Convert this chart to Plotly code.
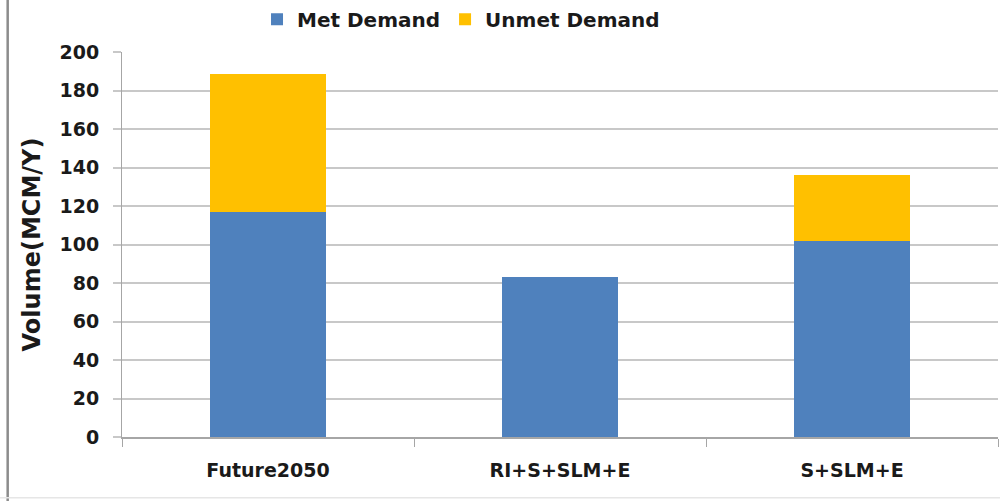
import plotly.graph_objects as go

# Scenario results, volumes in MCM per year
scenarios = ["Future2050", "RI+S+SLM+E", "S+SLM+E"]
met_demand = [117, 83, 102]
unmet_demand = [71.5, 0, 34]
y_ticks = [0, 20, 40, 60, 80, 100, 120, 140, 160, 180, 200]

BLUE = "#4F81BD"
GOLD = "#FFC000"
FONT = "DejaVu Sans"

fig = go.Figure()
fig.add_trace(go.Bar(x=scenarios, y=met_demand, name="Met Demand",
                     marker=dict(color=BLUE, line=dict(width=0))))
fig.add_trace(go.Bar(x=scenarios, y=unmet_demand, name="Unmet Demand",
                     marker=dict(color=GOLD, line=dict(width=0))))

fig.update_layout(
    barmode="stack",
    bargap=0.6,
    width=1000, height=501,
    margin=dict(l=122, r=2, t=52, b=64, autoexpand=False),
    paper_bgcolor="white",
    plot_bgcolor="white",
    font=dict(family=FONT, color="#1a1a1a"),
    showlegend=True,
    legend=dict(orientation="h", x=0.387, xanchor="center", y=1.085, yanchor="middle",
                font=dict(family=FONT, size=20, color="#1a1a1a", weight="bold"),
                itemwidth=30, traceorder="normal", bgcolor="rgba(0,0,0,0)"),
)

fig.update_yaxes(
    range=[0, 200], tickvals=y_ticks,
    showgrid=True, gridcolor="#c8c8c8", gridwidth=2,
    zeroline=False,
    showline=True, linecolor="#a6a6a6", linewidth=1,
    ticks="outside", ticklen=8, tickcolor="#c8c8c8", tickwidth=2,
    tickfont=dict(family=FONT, size=19, color="#1a1a1a", weight="bold"),
    ticklabelstandoff=10,
    title=dict(text="Volume(MCM/Y)", standoff=12,
               font=dict(family=FONT, size=24, color="#1a1a1a", weight="bold")),
)
fig.update_xaxes(
    showline=True, linecolor="#a6a6a6", linewidth=2,
    ticks="outside", ticklen=8, tickcolor="#a6a6a6", tickwidth=1,
    tickson="boundaries",
    tickfont=dict(family=FONT, size=19, color="#1a1a1a", weight="bold"),
    ticklabelstandoff=15,
)

# Chart frame on the left and bottom edges
fig.add_shape(type="line", xref="paper", yref="paper", x0=-0.1305, x1=-0.1305,
              y0=-0.2, y1=1.2, line=dict(color="#8c8c8c", width=2.5))
fig.add_shape(type="line", xref="paper", yref="paper", x0=-0.14, x1=1.01,
              y0=-0.158, y1=-0.158, line=dict(color="#e6e6e6", width=1.5))

fig.write_html("out.html")
